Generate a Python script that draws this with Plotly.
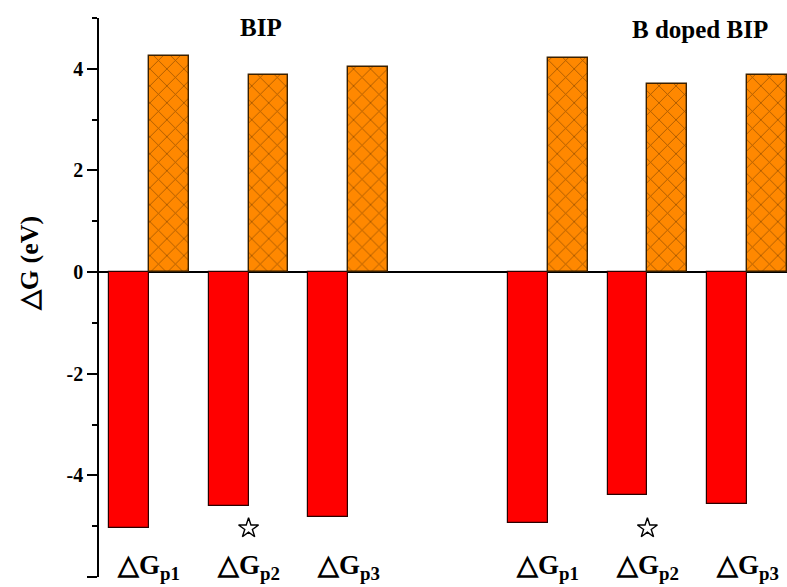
import plotly.graph_objects as go

# Reaction free-energy changes for the three pathway steps, pristine vs B-doped BIP
step_labels = ["△G<sub>p1</sub>", "△G<sub>p2</sub>", "△G<sub>p3</sub>"]
panel_titles = ["BIP", "B doped BIP"]
group_pos = [1, 2, 3, 5, 6, 7]           # slot of each step along the axis

dg_negative = [-5.03, -4.60, -4.81, -4.93, -4.38, -4.57]   # red bars
dg_positive = [4.26, 3.87, 4.04, 4.22, 3.71, 3.88]         # hatched orange bars

star_pos = [2, 6]
star_val = [-5.04, -5.04]

y_ticks = [-6, -4, -2, 0, 2, 4]
y_ticktext = ["-6", "-4", "-2", "0", "2", "4"]

SERIF = "Liberation Serif, Times New Roman, serif"
bar_w = 0.4

fig = go.Figure()

fig.add_trace(go.Bar(
    x=group_pos, y=dg_negative, width=bar_w, offset=-bar_w,
    marker=dict(color="#FF0000", line=dict(color="#2a0000", width=1.2)),
    showlegend=False,
))

fig.add_trace(go.Bar(
    x=group_pos, y=dg_positive, width=bar_w, offset=0,
    marker=dict(
        color="#FF8800",
        line=dict(color="#3a2000", width=1.4),
        pattern=dict(shape="x", fillmode="overlay", bgcolor="#FF8800",
                     fgcolor="#4a2400", size=12, solidity=0.14),
    ),
    showlegend=False,
))

fig.add_trace(go.Scatter(
    x=star_pos, y=star_val, mode="markers",
    marker=dict(symbol="star-open", size=15, color="black",
                line=dict(color="black", width=1.4)),
    showlegend=False,
))

# step labels below the bars, one under each group
for i, pos in enumerate(group_pos):
    fig.add_annotation(
        x=pos, y=-5.8, xref="x", yref="y",
        text="<b>" + step_labels[i % 3] + "</b>",
        showarrow=False, xanchor="center", yanchor="middle",
        font=dict(family=SERIF, size=27, color="black"),
    )

fig.add_annotation(x=2.12, y=4.82, xref="x", yref="y", text="<b>" + panel_titles[0] + "</b>",
                   showarrow=False, font=dict(family=SERIF, size=25, color="black"))
fig.add_annotation(x=6.53, y=4.78, xref="x", yref="y", text="<b>" + panel_titles[1] + "</b>",
                   showarrow=False, font=dict(family=SERIF, size=25, color="black"))

# y-axis title
fig.add_annotation(x=-0.1, y=0.56, xref="paper", yref="paper", text="<b>△G (eV)</b>",
                   textangle=-90, showarrow=False, xanchor="center", yanchor="middle",
                   font=dict(family=SERIF, size=26, color="black"))

fig.update_layout(
    width=787, height=587,
    margin=dict(l=99, r=0, t=18, b=10),
    paper_bgcolor="white", plot_bgcolor="white",
    barmode="overlay", bargap=0,
    xaxis=dict(range=[0.5, 7.4], visible=False),
    yaxis=dict(
        range=[-6, 5], showgrid=False,
        showline=True, linecolor="black", linewidth=1.5,
        zeroline=True, zerolinecolor="black", zerolinewidth=1.5,
        tickmode="array", tickvals=y_ticks, ticktext=y_ticktext,
        ticks="outside", ticklen=10, tickwidth=1.5, tickcolor="black",
        tickfont=dict(family=SERIF, size=20, color="black", weight="bold"),
        minor=dict(ticks="outside", ticklen=5, tickwidth=1.5, tickcolor="black",
                   dtick=1, tick0=1, showgrid=False),
    ),
)

fig.write_html("out.html")
